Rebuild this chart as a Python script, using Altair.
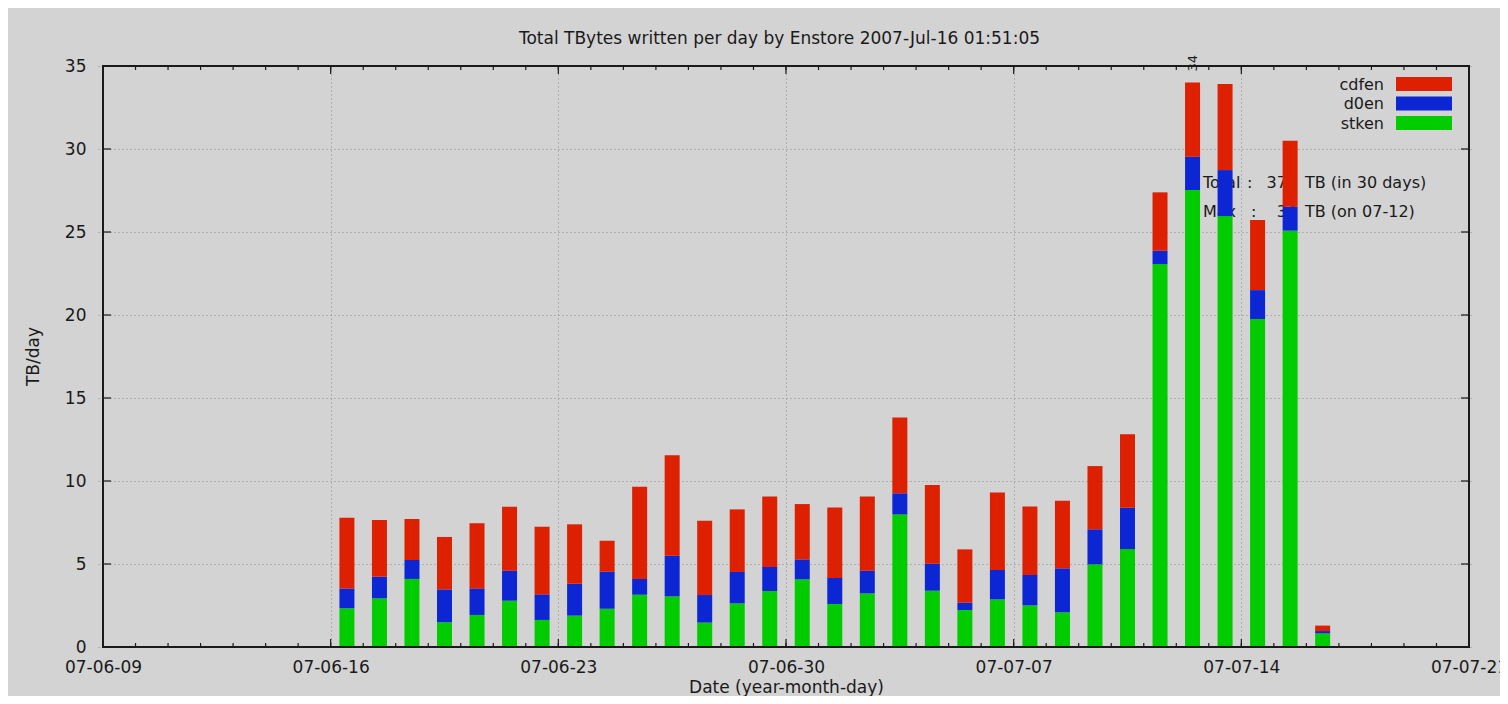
import altair as alt
import pandas as pd

# ---------------- data ----------------
days = [
    "2007-06-16", "2007-06-17", "2007-06-18", "2007-06-19", "2007-06-20",
    "2007-06-21", "2007-06-22", "2007-06-23", "2007-06-24", "2007-06-25",
    "2007-06-26", "2007-06-27", "2007-06-28", "2007-06-29", "2007-06-30",
    "2007-07-01", "2007-07-02", "2007-07-03", "2007-07-04", "2007-07-05",
    "2007-07-06", "2007-07-07", "2007-07-08", "2007-07-09", "2007-07-10",
    "2007-07-11", "2007-07-12", "2007-07-13", "2007-07-14", "2007-07-15",
    "2007-07-16",
]
stken = [2.33, 2.93, 4.10, 1.49, 1.93, 2.79, 1.63, 1.89, 2.31, 3.15,
         3.05, 1.47, 2.63, 3.37, 4.08, 2.59, 3.23, 7.99, 3.39, 2.23,
         2.87, 2.51, 2.09, 4.98, 5.90, 23.07, 27.53, 25.96, 19.76, 25.08,
         0.82]
d0en = [1.20, 1.31, 1.14, 1.98, 1.60, 1.81, 1.54, 1.92, 2.23, 0.95,
        2.45, 1.66, 1.89, 1.45, 1.20, 1.57, 1.37, 1.27, 1.63, 0.44,
        1.77, 1.83, 2.65, 2.11, 2.49, 0.80, 2.01, 2.77, 1.74, 1.44,
        0.14]
cdfen = [4.26, 3.41, 2.47, 3.16, 3.92, 3.85, 4.08, 3.58, 1.86, 5.56,
         6.05, 4.48, 3.77, 4.24, 3.33, 4.25, 4.46, 4.57, 4.74, 3.21,
         4.66, 4.13, 4.07, 3.81, 4.42, 3.52, 4.46, 5.19, 4.22, 3.98,
         0.33]

series_names = ["cdfen", "d0en", "stken"]
series_colors = ["#dd2000", "#0c26d4", "#00cc00"]
stack_order = {"stken": 0, "d0en": 1, "cdfen": 2}

week_ticks = ["2007-06-09", "2007-06-16", "2007-06-23", "2007-06-30",
              "2007-07-07", "2007-07-14", "2007-07-21"]
y_ticks = [0, 5, 10, 15, 20, 25, 30, 35]

TITLE = "Total TBytes written per day by Enstore 2007-Jul-16 01:51:05"

# ---------------- tables ----------------
rows = []
for i, d in enumerate(days):
    for name, vals in (("stken", stken), ("d0en", d0en), ("cdfen", cdfen)):
        rows.append({"t": d + "T12:00:00", "series": name,
                     "value": vals[i], "ord": stack_order[name]})
df = pd.DataFrame(rows)

totals = [a + b + c for a, b, c in zip(stken, d0en, cdfen)]
grand_total = sum(totals)
imax = max(range(len(totals)), key=lambda k: totals[k])
max_df = pd.DataFrame({"t": [days[imax] + "T12:00:00"], "value": [totals[imax]],
                       "lab": [str(int(round(totals[imax])))]})
max_day = days[imax][5:]

start_t = week_ticks[0] + "T00:00:00"
end_t = week_ticks[-1] + "T00:00:00"
all_days = pd.date_range(week_ticks[0], week_ticks[-1], freq="D").strftime("%Y-%m-%dT00:00:00")
minor_df = pd.DataFrame({"t": list(all_days)})
major_df = pd.DataFrame({"t": [w + "T00:00:00" for w in week_ticks[1:-1]]})
ytick_df = pd.DataFrame({"value": y_ticks[1:-1], "t": start_t, "t2": end_t})
frame_df = pd.DataFrame({"t": [start_t], "t2": [end_t], "value": [y_ticks[0]], "v2": [y_ticks[-1]]})

# ---------------- style ----------------
FONT = "DejaVu Sans"
INK = "#1a1a1a"
W, H = 1376, 581

x_scale = alt.Scale(domain=[alt.DateTime(year=2007, month=6, date=9),
                            alt.DateTime(year=2007, month=7, date=21)], nice=False)
y_scale = alt.Scale(domain=[0, 35], nice=False)

week_vals = [alt.DateTime(year=int(w[:4]), month=int(w[5:7]), date=int(w[8:])) for w in week_ticks]

x_axis = alt.Axis(values=week_vals, format="%y-%m-%d", title="Date (year-month-day)",
                  grid=True, gridDash=[1, 3], gridColor="#8a8a8a", gridWidth=1,
                  ticks=False, domain=False, labelFlush=False, labelOverlap=False,
                  labelBound=False, labelFont=FONT, labelFontSize=17, labelColor=INK,
                  labelBaseline="alphabetic", labelPadding=25,
                  titleFont=FONT, titleFontSize=17, titleFontWeight="normal",
                  titleColor=INK, titleX=688, titleY=45, titleBaseline="alphabetic",
                  titleAlign="center", titleAnchor="middle")
y_axis = alt.Axis(values=y_ticks, title="TB/day", grid=True, gridDash=[1, 3],
                  gridColor="#8a8a8a", gridWidth=1, ticks=False, domain=False,
                  labelFont=FONT, labelFontSize=17, labelColor=INK, labelPadding=12,
                  labelBaseline="middle",
                  titleFont=FONT, titleFontSize=17, titleFontWeight="normal",
                  titleColor=INK, titleX=-60, titleY=290, titleAngle=270,
                  titleAlign="center", titleBaseline="alphabetic")

X = lambda f: alt.X(f, type="temporal", scale=x_scale, axis=x_axis)
Y = lambda f: alt.Y(f, type="quantitative", scale=y_scale, axis=y_axis)

layers = []

# chart title
layers.append(
    alt.Chart(pd.DataFrame({"s": [TITLE]})).mark_text(
        align="center", baseline="alphabetic", font=FONT, fontSize=17, color=INK
    ).encode(x=alt.value(681.5), y=alt.value(-22), text="s:N")
)

# annotation text (drawn under the bars, as in the original)
ann_rows = [
    (117, "Total", 1149, str(int(round(grand_total))), "TB (in 30 days)"),
    (146, "Max", 1153, str(int(round(totals[imax]))), "TB (on %s)" % max_day),
]
for yy, lab, colon_x, val, unit in ann_rows:
    for txt, xx, al in ((lab, 1105, "left"), (":", colon_x, "left"),
                        (val, 1199, "right"), (unit, 1207, "left")):
        layers.append(
            alt.Chart(pd.DataFrame({"s": [txt]})).mark_text(
                align=al, baseline="middle", font=FONT, fontSize=16, color=INK
            ).encode(x=alt.value(xx), y=alt.value(yy), text="s:N")
        )

bars = alt.Chart(df).mark_bar(width=15).encode(
    x=X("t"),
    y=alt.Y("value:Q", stack="zero", scale=y_scale, axis=y_axis),
    color=alt.Color("series:N", scale=alt.Scale(domain=series_names, range=series_colors), legend=None),
    order=alt.Order("ord:Q"),
)
layers.append(bars)

# inward ticks
layers.append(alt.Chart(minor_df).mark_rule(color=INK, strokeWidth=1.2, y2Offset=-4).encode(
    x=X("t"), y=alt.datum(0), y2=alt.datum(0)))
layers.append(alt.Chart(minor_df).mark_rule(color=INK, strokeWidth=1.2, y2Offset=4).encode(
    x=X("t"), y=alt.datum(35), y2=alt.datum(35)))
layers.append(alt.Chart(major_df).mark_rule(color=INK, strokeWidth=1.2, y2Offset=-8).encode(
    x=X("t"), y=alt.datum(0), y2=alt.datum(0)))
layers.append(alt.Chart(major_df).mark_rule(color=INK, strokeWidth=1.2, y2Offset=8).encode(
    x=X("t"), y=alt.datum(35), y2=alt.datum(35)))
layers.append(alt.Chart(ytick_df).mark_rule(color=INK, strokeWidth=1.2, x2Offset=8).encode(
    y=Y("value"), x=X("t"), x2="t:T"))
layers.append(alt.Chart(ytick_df).mark_rule(color=INK, strokeWidth=1.2, x2Offset=-8).encode(
    y=Y("value"), x=X("t2"), x2="t2:T"))

# frame
layers.append(alt.Chart(frame_df).mark_rect(fillOpacity=0, stroke=INK, strokeWidth=2).encode(
    x=X("t"), x2="t2:T", y=Y("value"), y2="v2:Q"))

# max label
layers.append(alt.Chart(max_df).mark_text(angle=270, align="left", baseline="middle",
                                          dx=11, font=FONT, fontSize=13, color=INK).encode(
    x=X("t"), y=Y("value"), text="lab:N"))

# legend (key top right)
for k, (name, col) in enumerate(zip(series_names, series_colors)):
    y0 = 11 + 19.5 * k
    one = pd.DataFrame({"s": [name]})
    layers.append(alt.Chart(one).mark_rect(color=col).encode(
        x=alt.value(1298), x2=alt.value(1354), y=alt.value(y0), y2=alt.value(y0 + 14)))
    layers.append(alt.Chart(one).mark_text(align="right", baseline="middle", font=FONT,
                                           fontSize=16, color=INK).encode(
        x=alt.value(1286), y=alt.value(y0 + 7.5), text="s:N"))

chart = alt.layer(*layers).properties(
    width=W, height=H,
    autosize=alt.AutoSizeParams(type="none"),
    padding={"left": 90, "top": 58, "right": 26, "bottom": 49},
    background="#d3d3d3",
).configure_view(strokeWidth=0)

chart.save("out.html", embed_options={"renderer": "svg", "actions": False})
